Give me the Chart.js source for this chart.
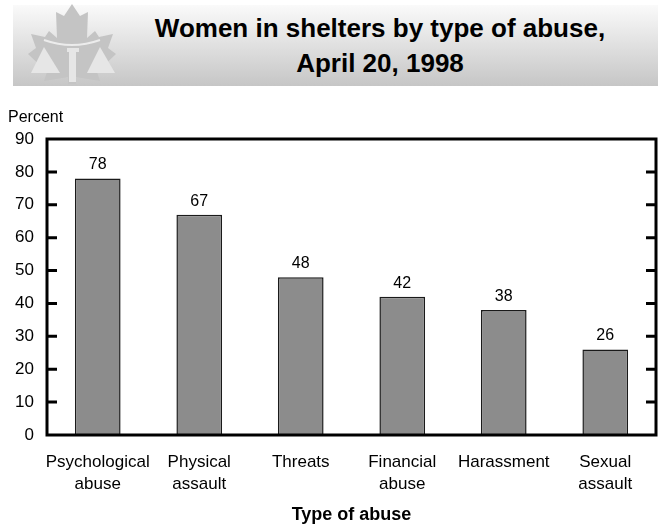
<!DOCTYPE html>
<html><head><meta charset="utf-8">
<script src="https://cdn.jsdelivr.net/npm/chart.js@4.4.0/dist/chart.umd.min.js"></script>
<style>
html,body{margin:0;padding:0;background:#fff;width:658px;height:524px;overflow:hidden;font-family:"Liberation Sans",Arial,sans-serif}
#banner{position:absolute;left:13px;top:5px;width:645px;height:81px;background:linear-gradient(#fafafa,#c6c6c6)}
#logo{position:absolute;left:0;top:0}
#title{position:absolute;left:100px;width:560px;top:11px;text-align:center;font-weight:bold;font-size:26px;line-height:35px;color:#000}
#c{position:absolute;left:0;top:0}
</style></head>
<body>
<div id="banner"></div>
<svg id="logo" width="130" height="90" viewBox="0 0 130 90">
  <polygon fill="#c4c4c4" points="72,4 80,16 88,12 87,38 95,31 99,37 113,34 108,48 116,54 97,72 100,81 76,77 76,84 68,84 68,77 44,81 47,72 28,54 36,48 31,34 45,37 49,31 57,38 56,12 64,16"/>
  <path d="M44,40 Q72,50 100,40" stroke="#ececec" stroke-width="2" fill="none"/>
  <polygon fill="#e6e6e6" points="44,47 31,73 60,73"/>
  <polygon fill="#e6e6e6" points="100,47 87,73 115,73"/>
  <rect fill="#e6e6e6" x="67" y="48" width="12" height="4"/>
  <rect fill="#e6e6e6" x="69" y="50" width="7" height="32"/>
</svg>
<div id="title">Women in shelters by type of abuse,<br>April 20, 1998</div>
<canvas id="c" width="658" height="524"></canvas>
<script>
const categories = [["Psychological","abuse"],["Physical","assault"],"Threats",["Financial","abuse"],"Harassment",["Sexual","assault"]];
const values = [78, 67, 48, 42, 38, 26];
const yTicks = [0, 10, 20, 30, 40, 50, 60, 70, 80, 90];
const FAMILY = '"Liberation Sans", Arial, sans-serif';
Chart.defaults.font.family = FAMILY;

const frame = {
  id: 'frame',
  afterDatasetsDraw(chart) {
    const {ctx, chartArea: a, scales: {y}} = chart;
    ctx.save();
    ctx.strokeStyle = '#000';
    ctx.lineWidth = 3;
    ctx.strokeRect(a.left, a.top, a.right - a.left, a.bottom - a.top);
    yTicks.forEach((v, i) => {
      if (i === 0 || i === yTicks.length - 1) return;
      const py = y.getPixelForValue(v);
      ctx.beginPath();
      ctx.moveTo(a.left, py); ctx.lineTo(a.left + 10, py);
      ctx.moveTo(a.right - 10, py); ctx.lineTo(a.right, py);
      ctx.stroke();
    });
    ctx.fillStyle = '#000';
    ctx.font = '16px ' + FAMILY;
    ctx.textAlign = 'center';
    ctx.textBaseline = 'alphabetic';
    chart.getDatasetMeta(0).data.forEach((bar, i) => {
      ctx.fillText(String(values[i]), bar.x, bar.y - 9);
    });
    ctx.textAlign = 'left';
    ctx.textBaseline = 'middle';
    ctx.fillText('Percent', 8, a.top - 21);
    ctx.restore();
  }
};

new Chart(document.getElementById('c'), {
  type: 'bar',
  data: {
    labels: categories,
    datasets: [{
      data: values,
      backgroundColor: '#8c8c8c',
      borderColor: '#1a1a1a',
      borderWidth: 1.5,
      categoryPercentage: 1,
      barPercentage: 0.45
    }]
  },
  options: {
    responsive: false,
    animation: false,
    devicePixelRatio: 1,
    layout: {padding: {top: 139, left: 0, right: 2, bottom: 0}},
    plugins: {legend: {display: false}, tooltip: {enabled: false}},
    scales: {
      x: {
        grid: {display: false, drawTicks: false},
        border: {display: false},
        ticks: {font: {size: 17, lineHeight: 1.3}, color: '#000', padding: 16, maxRotation: 0, autoSkip: false},
        title: {display: true, text: 'Type of abuse', color: '#000', font: {size: 18, weight: 'bold', lineHeight: 1}, padding: 0},
        afterFit(s) { s.height = 89; }
      },
      y: {
        min: yTicks[0],
        max: yTicks[yTicks.length - 1],
        grid: {display: false, drawTicks: false},
        border: {display: false},
        ticks: {font: {size: 17}, color: '#000', padding: 13},
        afterBuildTicks(s) { s.ticks = yTicks.map(v => ({value: v})); },
        afterFit(s) { s.width = 47; }
      }
    }
  },
  plugins: [frame]
});
</script>
</body></html>
